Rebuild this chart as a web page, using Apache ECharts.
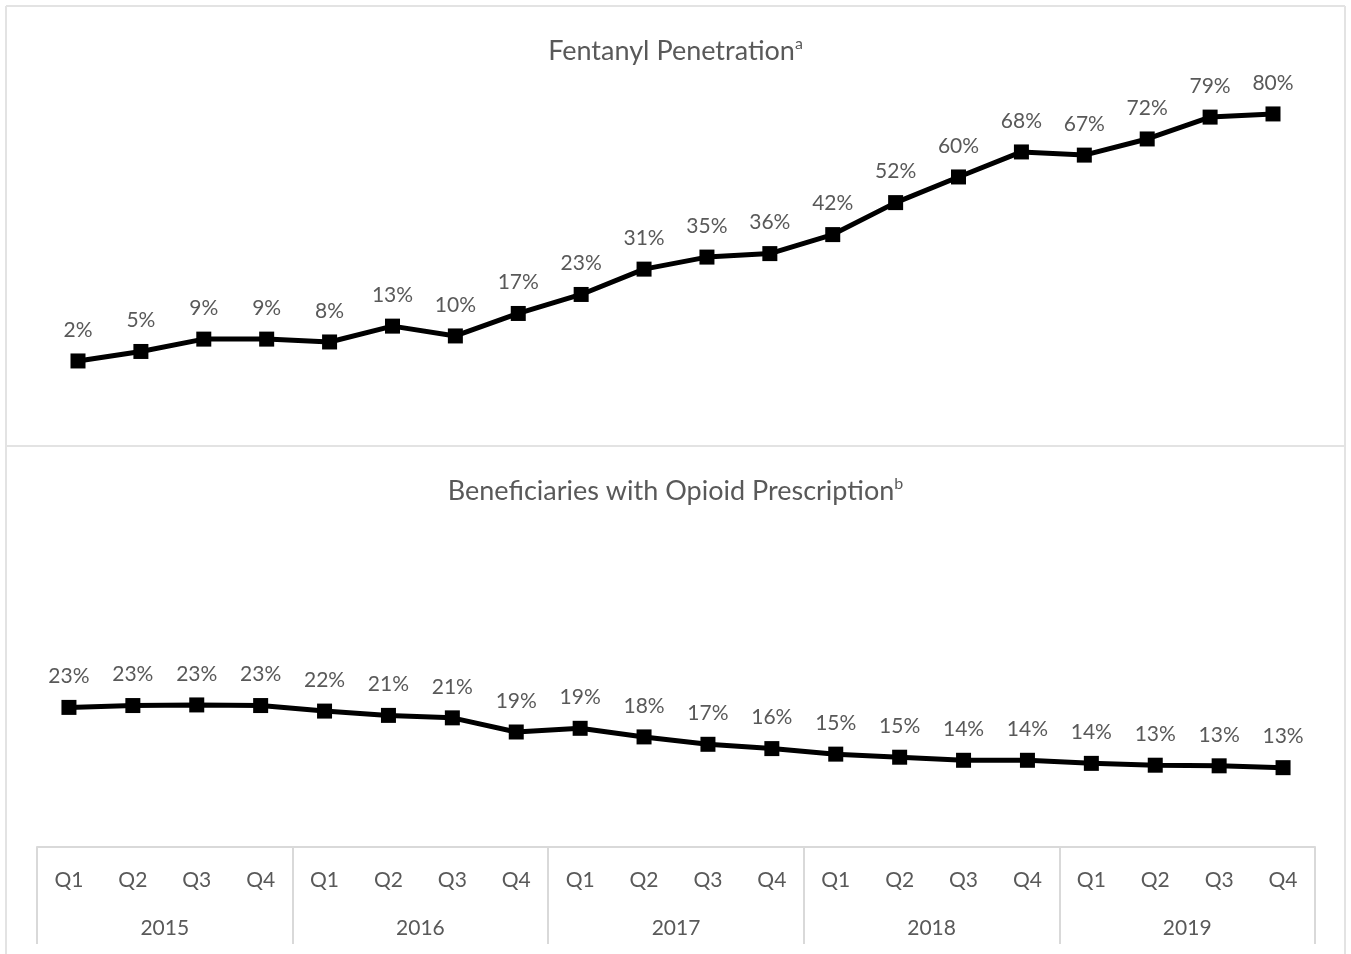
<!DOCTYPE html>
<html>
<head>
<meta charset="utf-8">
<script src="https://cdn.jsdelivr.net/npm/echarts@6/dist/echarts.min.js"></script>
<style>
  html, body { margin: 0; padding: 0; background: #fff; }
  #main { width: 1351px; height: 954px; }
</style>
</head>
<body>
<div id="main"></div>
<script>
// data
var quarters = ['Q1', 'Q2', 'Q3', 'Q4', 'Q1', 'Q2', 'Q3', 'Q4', 'Q1', 'Q2', 'Q3', 'Q4',
    'Q1', 'Q2', 'Q3', 'Q4', 'Q1', 'Q2', 'Q3', 'Q4'];
var years = ['2015', '2016', '2017', '2018', '2019'];
var fentanyl = [2, 5, 8.9, 8.9, 8, 13, 9.9, 17, 23, 31, 34.8, 35.9, 41.9, 52, 60.1, 68, 67, 72.1, 79, 80];
var opioid = [22.7, 23.0, 23.1, 23.0, 22.1, 21.4, 21.0, 18.7, 19.3, 17.9, 16.7, 16.0,
    15.1, 14.6, 14.1, 14.1, 13.6, 13.3, 13.2, 12.9];

var FONT = 'Lato';
var GREY = '#595959';
var BORDER = '#e3e3e3';

var myChart = echarts.init(document.getElementById('main'));

function lineSeries(data, idx) {
    return {
        type: 'line',
        xAxisIndex: idx === 0 ? 0 : 1,
        yAxisIndex: idx,
        data: data,
        symbol: 'rect',
        symbolSize: 15,
        lineStyle: { color: '#000', width: 5 },
        itemStyle: { color: '#000' },
        label: {
            show: true,
            position: 'top',
            distance: 13,
            fontFamily: FONT,
            fontSize: 21,
            color: GREY,
            formatter: function (p) { return Math.round(p.value) + '%'; }
        },
        animation: false
    };
}

function titleRich(main, sup) {
    return {
        text: '{t|' + main + '}{s|' + sup + '}',
        left: 'center',
        textStyle: {
            fontWeight: 'normal',
            rich: {
                t: { fontFamily: FONT, fontSize: 27, fontWeight: 'normal', color: GREY, lineHeight: 30 },
                s: { fontFamily: FONT, fontSize: 16, fontWeight: 'normal', color: GREY, lineHeight: 30, verticalAlign: 'top', padding: [0, 0, 12, 0] }
            }
        }
    };
}

var t1 = titleRich('Fentanyl Penetration', 'a');
t1.top = 31;
var t2 = titleRich('Beneficiaries with Opioid Prescription', 'b');
t2.top = 471;

myChart.setOption({
    backgroundColor: '#fff',
    title: [t1, t2],
    grid: [
        { left: 78, right: 78, top: 50.6, bottom: 586.7 },
        { left: 37, right: 36, top: 478, bottom: 107 }
    ],
    xAxis: [
        {
            gridIndex: 0, type: 'category', data: quarters, boundaryGap: false,
            show: false
        },
        {
            gridIndex: 1, type: 'category', data: quarters, position: 'bottom',
            axisLine: { show: true, lineStyle: { color: '#d9d9d9', width: 2 } },
            axisTick: { show: false },
            axisLabel: { margin: 23, fontFamily: FONT, fontSize: 21, color: GREY, interval: 0 }
        },
        {
            gridIndex: 1, type: 'category', data: years, position: 'bottom',
            axisLine: { show: false },
            axisTick: { show: true, length: 97, lineStyle: { color: '#d9d9d9', width: 2 } },
            axisLabel: { margin: 71, fontFamily: FONT, fontSize: 21, color: GREY }
        }
    ],
    yAxis: [
        { gridIndex: 0, type: 'value', min: 0, max: 100, show: false },
        { gridIndex: 1, type: 'value', min: 0, max: 60, show: false }
    ],
    graphic: [
        { type: 'line', shape: { x1: 6, y1: 6, x2: 1345, y2: 6 }, style: { stroke: BORDER, lineWidth: 2 }, silent: true },
        { type: 'line', shape: { x1: 6, y1: 446, x2: 1345, y2: 446 }, style: { stroke: BORDER, lineWidth: 2 }, silent: true },
        { type: 'line', shape: { x1: 6, y1: 6, x2: 6, y2: 954 }, style: { stroke: BORDER, lineWidth: 2 }, silent: true },
        { type: 'line', shape: { x1: 1345, y1: 6, x2: 1345, y2: 954 }, style: { stroke: BORDER, lineWidth: 2 }, silent: true }
    ],
    series: [
        lineSeries(fentanyl, 0),
        lineSeries(opioid, 1)
    ]
});
</script>
</body>
</html>
